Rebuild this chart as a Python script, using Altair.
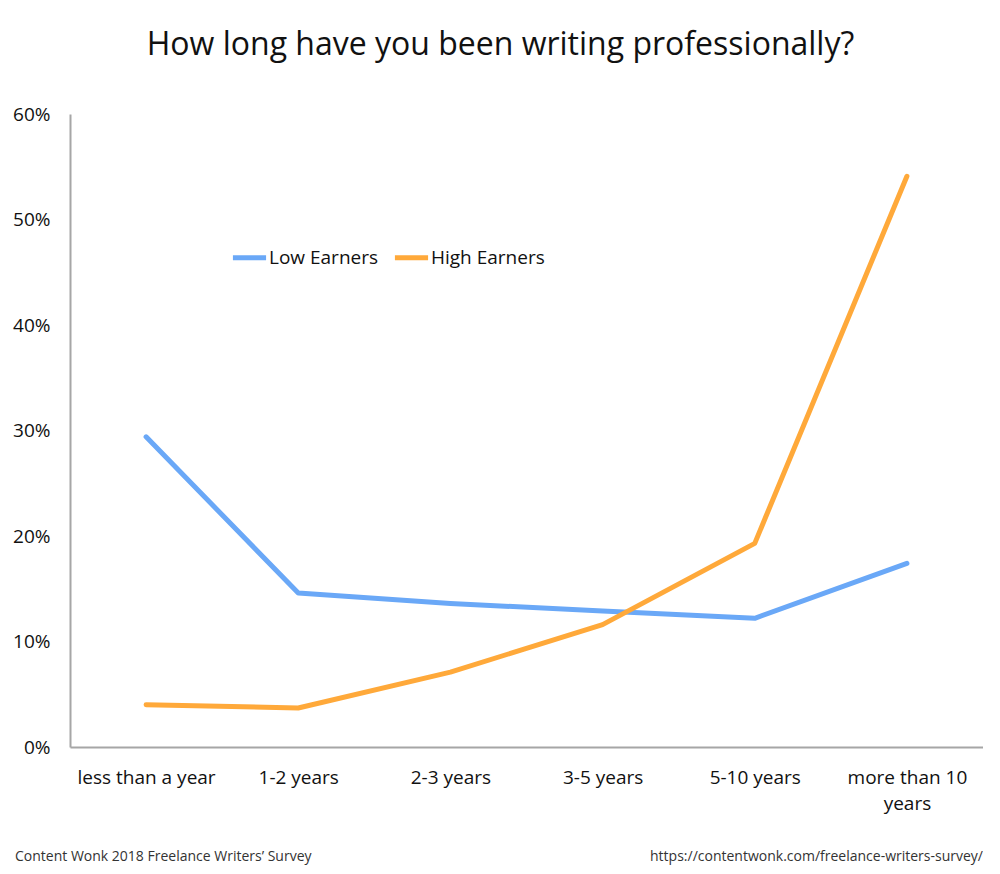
import altair as alt
import pandas as pd

categories = ["less than a year", "1-2 years", "2-3 years", "3-5 years", "5-10 years", "more than 10 years"]
low_earners = [0.294, 0.146, 0.136, 0.129, 0.122, 0.174]
high_earners = [0.040, 0.037, 0.071, 0.116, 0.193, 0.541]
series_names = ["Low Earners", "High Earners"]
colors = ["#6AA8F7", "#FFA93A"]
footer_left = "Content Wonk 2018 Freelance Writers’ Survey"
footer_right = "https://contentwonk.com/freelance-writers-survey/"
title_text = "How long have you been writing professionally?"

rows = []
for c, lo, hi in zip(categories, low_earners, high_earners):
    rows.append({"cat": c, "series": series_names[0], "value": lo})
    rows.append({"cat": c, "series": series_names[1], "value": hi})
df = pd.DataFrame(rows)

W, H = 913, 633
FONT = "Open Sans"

x_enc = alt.X("cat:N", sort=categories, title=None,
              scale=alt.Scale(paddingInner=0, paddingOuter=0),
              axis=alt.Axis(labelAngle=0, ticks=False, domainColor="#A6A6A6", domainWidth=2,
                            labelFontSize=19, labelFont=FONT, labelColor="#111", labelPadding=21,
                            labelLimit=200, labelLineHeight=26,
                            labelExpr="datum.label == 'more than 10 years' ? ['more than 10', 'years'] : datum.label"))
y_enc = alt.Y("value:Q", title=None,
              scale=alt.Scale(domain=[0, 0.6], nice=False),
              axis=alt.Axis(format=".0%", values=[0, 0.1, 0.2, 0.3, 0.4, 0.5, 0.6], grid=False, ticks=False,
                            domainColor="#A6A6A6", domainWidth=2, labelFontSize=19, labelFont=FONT,
                            labelColor="#111", labelPadding=20))

lines = alt.Chart(df).mark_line(strokeWidth=5, strokeCap="round", strokeJoin="round").encode(
    x=x_enc, y=y_enc,
    color=alt.Color("series:N", sort=series_names,
                    scale=alt.Scale(domain=series_names, range=colors),
                    legend=alt.Legend(title=None, orient="none", direction="horizontal",
                                      legendX=160, legendY=124, symbolType="stroke",
                                      symbolStrokeWidth=5, symbolSize=1100, labelFontSize=19,
                                      labelFont=FONT, labelColor="#111", columnPadding=5,
                                      symbolOffset=0, labelOffset=0)),
)

foot_df = pd.DataFrame({"t": [footer_left]})
foot_l = alt.Chart(foot_df).mark_text(align="left", baseline="middle", fontSize=14, font=FONT,
                                      color="#333").encode(
    text="t:N", x=alt.value(-55), y=alt.value(H + 110))
foot_df2 = pd.DataFrame({"t": [footer_right]})
foot_r = alt.Chart(foot_df2).mark_text(align="right", baseline="middle", fontSize=14, font=FONT,
                                       color="#333").encode(
    text="t:N", x=alt.value(W), y=alt.value(H + 110))

chart = alt.layer(lines, foot_l, foot_r).properties(
    width=W, height=H,
    background="white",
    title=alt.TitleParams(title_text, fontSize=32, font=FONT, fontWeight="normal", color="#111",
                          anchor="middle", dx=-26, offset=43),
    autosize=alt.AutoSizeParams(type="none"),
    padding={"left": 62, "top": 106, "right": 0, "bottom": 118},
).configure_view(stroke=None, strokeWidth=0)

chart.save("out.html", embed_options={"renderer": "svg", "actions": False})
